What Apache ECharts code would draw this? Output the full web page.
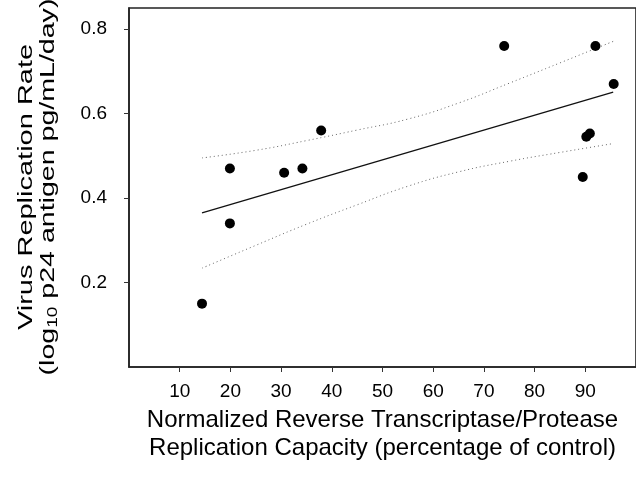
<!DOCTYPE html>
<html>
<head>
<meta charset="utf-8">
<script src="https://cdn.jsdelivr.net/npm/echarts@6/dist/echarts.min.js"></script>
<style>
  html, body { margin: 0; padding: 0; background: #fff; }
  #chart { width: 636px; height: 480px; }
</style>
</head>
<body>
<div id="chart"></div>
<script>
// measured points: [capacity %, replication rate]
var capacity = [14.4, 19.9, 19.9, 30.6, 34.2, 37.9, 74.0, 89.5, 90.2, 90.9, 92.0, 95.6];
var rate     = [0.15, 0.34, 0.47, 0.46, 0.47, 0.56, 0.76, 0.45, 0.545, 0.553, 0.76, 0.67];

// regression line ends
var fitX = [14.4, 95.5];
var fitY = [0.365, 0.651];

// confidence band
var bandX     = [14.4, 25, 35, 45, 55, 65, 75, 85, 95.5];
var bandUpper = [0.495, 0.513, 0.536, 0.561, 0.587, 0.625, 0.672, 0.720, 0.771];
var bandLower = [0.234, 0.288, 0.338, 0.384, 0.428, 0.462, 0.487, 0.508, 0.529];

var xTicks = [10, 20, 30, 40, 50, 60, 70, 80, 90];
var yTicks = [0.2, 0.4, 0.6, 0.8];

function pairs(xs, ys) {
    var out = [];
    for (var i = 0; i < xs.length; i++) out.push([xs[i], ys[i]]);
    return out;
}

var font = 'Liberation Sans, Arial, sans-serif';
var myChart = echarts.init(document.getElementById('chart'));

var option = {
    animation: false,
    backgroundColor: '#fff',
    textStyle: { fontFamily: font },
    grid: {
        left: 129, top: 8, width: 510, height: 359,
        show: true, borderColor: '#222', borderWidth: 1.6
    },
    // y title is stretched along its length like the scanned original
    graphic: [
        {
            type: 'text', x: 26, y: 187, rotation: Math.PI / 2, scaleX: 1.38,
            style: {
                text: 'Virus Replication Rate',
                font: '21px ' + font, fill: '#000',
                align: 'center', verticalAlign: 'middle'
            }
        },
        {
            type: 'text', x: 48, y: 187, rotation: Math.PI / 2, scaleX: 1.36,
            style: {
                text: '{a|(log}{s|10}{a| p24 antigen pg/mL/day)}',
                fill: '#000', align: 'center', verticalAlign: 'middle',
                rich: {
                    a: { fontSize: 21, lineHeight: 24, fontFamily: font, fill: '#000' },
                    s: { fontSize: 14, lineHeight: 24, verticalAlign: 'bottom', fontFamily: font, fill: '#000' }
                }
            }
        }
    ],
    xAxis: {
        type: 'value', min: 0, max: 100,
        axisLine: { lineStyle: { color: '#222', width: 1.5 } },
        axisTick: { show: true, length: 5, customValues: xTicks, lineStyle: { color: '#333' } },
        axisLabel: { customValues: xTicks, color: '#000', fontSize: 19, margin: 15, fontFamily: font },
        splitLine: { show: false },
        name: 'Normalized Reverse Transcriptase/Protease\nReplication Capacity (percentage of control)',
        nameLocation: 'middle',
        nameGap: 38,
        nameTextStyle: { color: '#000', fontSize: 24, lineHeight: 28, fontFamily: font }
    },
    yAxis: {
        type: 'value', min: 0, max: 0.85,
        axisLine: { lineStyle: { color: '#222', width: 1.5 } },
        axisTick: { show: true, length: 5, customValues: yTicks, lineStyle: { color: '#333' } },
        axisLabel: {
            customValues: yTicks, color: '#000', fontSize: 19, margin: 22, fontFamily: font,
            formatter: function (v) { return v.toFixed(1); }
        },
        splitLine: { show: false }
    },
    series: [
        {
            name: 'upper',
            type: 'line',
            data: pairs(bandX, bandUpper),
            smooth: true,
            symbol: 'none',
            lineStyle: { color: '#666', width: 1, type: [1, 3] },
            z: 2
        },
        {
            name: 'lower',
            type: 'line',
            data: pairs(bandX, bandLower),
            smooth: true,
            symbol: 'none',
            lineStyle: { color: '#666', width: 1, type: [1, 3] },
            z: 2
        },
        {
            name: 'fit',
            type: 'line',
            data: pairs(fitX, fitY),
            symbol: 'none',
            lineStyle: { color: '#111', width: 1.3 },
            z: 3
        },
        {
            name: 'points',
            type: 'scatter',
            data: pairs(capacity, rate),
            symbol: 'circle',
            symbolSize: 10,
            itemStyle: { color: '#000', opacity: 1 },
            z: 5
        }
    ]
};
myChart.setOption(option);
window.addEventListener('resize', function () { myChart.resize(); });
</script>
</body>
</html>
